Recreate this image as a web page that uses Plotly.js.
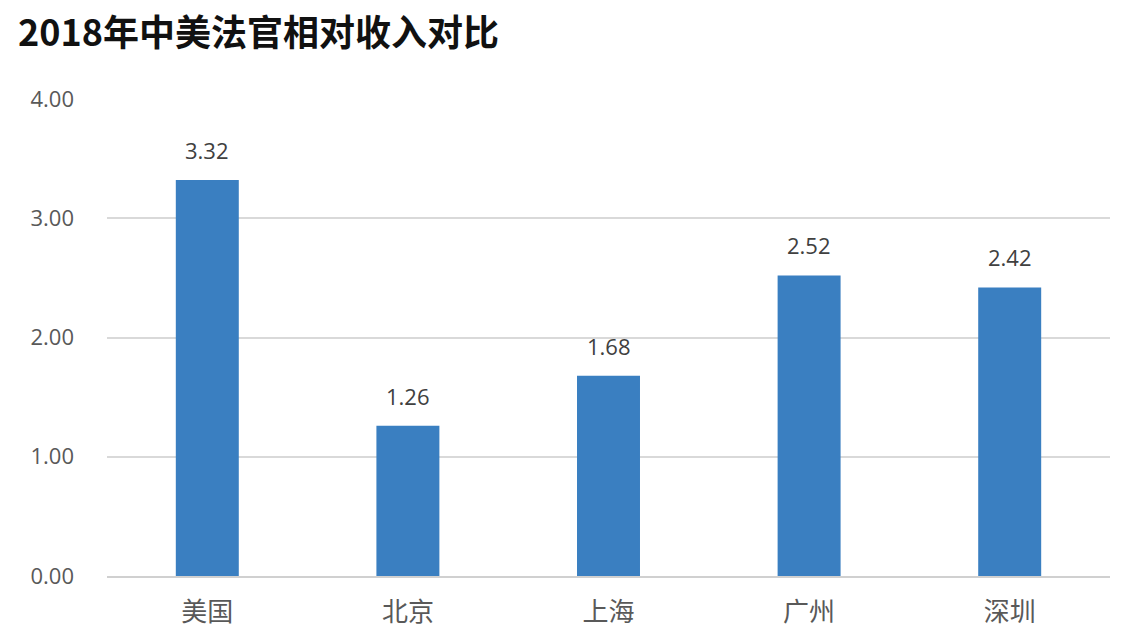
<!DOCTYPE html>
<html><head><meta charset="utf-8">
<script src="https://cdn.plot.ly/plotly-3.0.1.min.js"></script>
<style>html,body{margin:0;padding:0;background:#fff}#chart{width:1129px;height:643px}</style>
</head><body><div id="chart"></div>
<script>
const categories = ["美国", "北京", "上海", "广州", "深圳"];
const values = [3.32, 1.26, 1.68, 2.52, 2.42];
const labels = values.map(v => v.toFixed(2));
const tickVals = [0, 1, 2, 3, 4];
const tickText = ["0.00", "1.00", "2.00", "3.00", "4.00"];

const trace = {
  type: "bar", x: categories, y: values,
  marker: {color: "#3a7fc1"}, hoverinfo: "x+y"
};
const annotations = categories.map((c, i) => ({
  x: c, y: values[i], xref: "x", yref: "y", text: labels[i], showarrow: false,
  yanchor: "middle", yshift: 30,
  font: {family: "Open Sans, Noto Sans, sans-serif", size: 22, color: "#404040"}
}));
const layout = {
  width: 1129, height: 643,
  margin: {l: 107, r: 19, t: 99, b: 67},
  paper_bgcolor: "#fff", plot_bgcolor: "#fff",
  bargap: 0.686, showlegend: false, annotations: annotations,
  title: {text: "2018年中美法官相对收入对比", x: 0.016, xanchor: "left", y: 0.948, yanchor: "middle",
    font: {family: "Noto Sans CJK SC, sans-serif", size: 36, color: "#111", weight: "bold"}},
  xaxis: {type: "category", showgrid: false, showline: true, linecolor: "#d0d0d0", linewidth: 2,
    ticks: "", ticklabelstandoff: 12,
    tickfont: {family: "Noto Sans CJK SC, sans-serif", size: 26, color: "#595959"}},
  yaxis: {range: [0, 4], tickvals: tickVals, ticktext: tickText, showgrid: true, gridcolor: "#d9d9d9", gridwidth: 2,
    zeroline: false, showline: false, ticks: "", ticklabelstandoff: 32,
    tickfont: {family: "Open Sans, Noto Sans, sans-serif", size: 22, color: "#595959"}}
};
Plotly.newPlot("chart", [trace], layout, {displayModeBar: false});
</script></body></html>
